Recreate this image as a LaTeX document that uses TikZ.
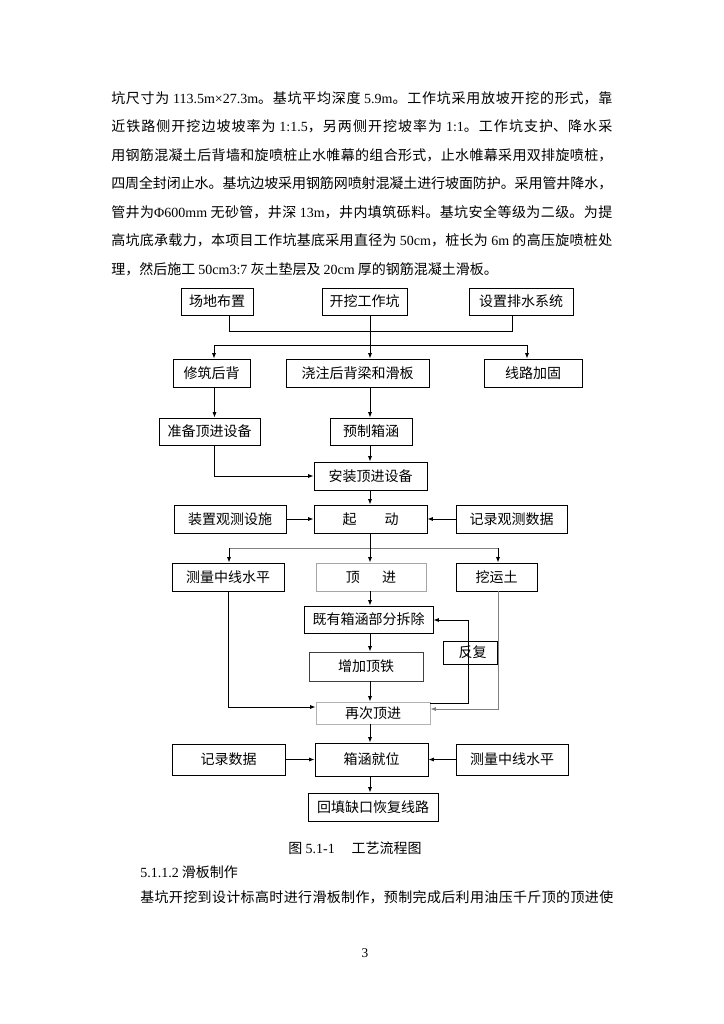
\documentclass[tikz,border=0pt]{standalone}
\usepackage{fontspec}
\setmainfont{Noto Sans CJK SC}
\newfontfamily\latf{Liberation Serif}
\usetikzlibrary{arrows.meta,calc}
\XeTeXlinebreaklocale "zh"
\XeTeXlinebreakskip=0pt plus 2pt minus 0.5pt
\newdimen\pxu \pxu=0.75pt
\newcommand\lt[1]{{\latf #1}}
\newcommand\jline[2]{\parbox{#1\pxu}{\XeTeXlinebreaklocale "zh"\XeTeXlinebreakskip=0pt plus 2pt minus 0.5pt\relax\noindent\parfillskip=0pt\relax #2\par}}
\begin{document}
\begin{tikzpicture}[x=0.75pt,y=-0.75pt,
  font=\fontsize{10.5pt}{12pt}\selectfont,
  box/.style={draw, line width=0.7pt, inner sep=0pt, anchor=center},
  bx/.style 2 args={minimum width=#1*0.75pt, minimum height=#2*0.75pt},
  arr/.style={-{Latex[length=4pt,width=3pt]}, line width=0.6pt},
  ln/.style={line width=0.6pt},
  txt/.style={anchor=west, inner sep=0pt}]
\useasboundingbox[fill=white] (0,0) rectangle (724,1024);

% paragraph
\node[txt] (p1) at (111,98) {\jline{501}{坑尺寸为 \lt{113.5m×27.3m}。基坑平均深度 \lt{5.9m}。工作坑采用放坡开挖的形式，靠}};
\node[txt] (p2) at (111,126.5) {\jline{501}{近铁路侧开挖边坡坡率为 \lt{1:1.5}，另两侧开挖坡率为 \lt{1:1}。工作坑支护、降水采}};
\node[txt] (p3) at (111,155) {\jline{501}{用钢筋混凝土后背墙和旋喷桩止水帷幕的组合形式，止水帷幕采用双排旋喷桩，}};
\node[txt] (p4) at (111,183.5) {\jline{501}{四周全封闭止水。基坑边坡采用钢筋网喷射混凝土进行坡面防护。采用管井降水，}};
\node[txt] (p5) at (111,212) {\jline{501}{管井为\lt{Φ600mm} 无砂管，井深 \lt{13m}，井内填筑砾料。基坑安全等级为二级。为提}};
\node[txt] (p6) at (111,240.5) {\jline{501}{高坑底承载力，本项目工作坑基底采用直径为 \lt{50cm}，桩长为 \lt{6m} 的高压旋喷桩处}};
\node[txt] (p7) at (111,269) {理，然后施工 \lt{50cm3:7} 灰土垫层及 \lt{20cm} 厚的钢筋混凝土滑板。};

% boxes
\node[box,bx={72}{27}] (a1) at (217,301.5) {场地布置};
\node[box,bx={85}{27}] (a2) at (364.5,301.5) {开挖工作坑};
\node[box,bx={104}{27}] (a3) at (521,301.5) {设置排水系统};

\node[box,bx={77}{28}] (b1) at (211.5,373) {修筑后背};
\node[box,bx={143}{28}] (b2) at (357.5,373) {浇注后背梁和滑板};
\node[box,bx={98}{28}] (b3) at (533,373) {线路加固};

\node[box,bx={101}{27}] (c1) at (209.5,431.5) {准备顶进设备};
\node[box,bx={82}{27}] (c2) at (371,431.5) {预制箱涵};

\node[box,bx={113}{28}] (d) at (370.5,476) {安装顶进设备};

\node[box,bx={112}{28}] (e1) at (230,519) {装置观测设施};
\node[box,bx={113}{28}] (e2) at (370.5,519) {起\hspace{2em}动};
\node[box,bx={111}{28}] (e3) at (511.5,519) {记录观测数据};

\node[box,bx={112}{28}] (f1) at (228,577) {测量中线水平};
\node[box,bx={110}{28},draw=gray!70] (f2) at (371,577) {顶\hspace{1.6em}进};
\node[box,bx={81}{28}] (f3) at (496.5,577) {挖运土};

\node[box,bx={129}{27}] (g) at (368.5,619.5) {既有箱涵部分拆除};
\node[box,bx={114}{29},draw=black!75] (h) at (366,666.5) {增加顶铁};
\node[box,bx={114}{22},draw=gray!60] (i) at (373,713) {再次顶进};
\node[box,bx={54}{23}] (r) at (470,652.5) {\hspace{4pt}反复};

\node[box,bx={113}{31}] (j1) at (228.5,759.5) {记录数据};
\node[box,bx={113}{33}] (j2) at (371.5,759.5) {箱涵就位};
\node[box,bx={112}{31}] (j3) at (512,759.5) {测量中线水平};
\node[box,bx={130}{28}] (k) at (373,807) {回填缺口恢复线路};

% coordinates
\coordinate (XM) at (370,0);
\coordinate (XA) at (214.5,0);
\coordinate (t1) at (229,331); \coordinate (t2) at (512,331);
\coordinate (h1) at (214,345); \coordinate (h2) at (370,345); \coordinate (h3) at (527,345);
\coordinate (k1) at (214.5,476);
\coordinate (s1) at (229,548); \coordinate (s2) at (370,548); \coordinate (s3) at (498,548);
\coordinate (m1) at (228,707);
\coordinate (q1) at (468,703); \coordinate (q2) at (468,620);
\coordinate (w1) at (498,709);

% connectors
\draw[ln] (a1.south -| t1) -- (t1) -- (t2) -- (a3.south -| t2);
\draw[ln] (a2.south -| XM) -- (h2);
\draw[ln] (h1) -- (h3);
\draw[arr] (h1) -- (b1.north -| h1);
\draw[arr] (h2) -- (b2.north -| h2);
\draw[arr] (h3) -- (b3.north -| h3);
\draw[arr] (b1.south -| XA) -- (c1.north -| XA);
\draw[arr] (b2.south -| XM) -- (c2.north -| XM);
\draw[arr] (c1.south -| k1) -- (k1) -- (d.west |- k1);
\draw[arr] (c2.south -| XM) -- (d.north -| XM);
\draw[arr] (d.south -| XM) -- (e2.north -| XM);
\draw[arr] (e1.east) -- (e2.west);
\draw[arr] (e3.west) -- (e2.east);
\draw[ln] (e2.south -| XM) -- (s2);
\draw[ln,gray] (s1) -- (s3);
\draw[arr] (s1) -- (f1.north -| s1);
\draw[arr] (s2) -- (f2.north -| s2);
\draw[arr] (s3) -- (f3.north -| s3);
\draw[arr] (f2.south -| XM) -- (g.north -| XM);
\draw[arr] (g.south -| XM) -- (h.north -| XM);
\draw[arr] (h.south -| XM) -- (i.north -| XM);
\draw[arr] (f1.south -| m1) -- (m1) -- (i.west |- m1);
\draw[arr,draw=gray] (f3.south -| w1) -- (w1) -- (i.east |- w1);
\draw[arr] (i.east |- q1) -- (q1) -- (q2) -- (g.east |- q2);
\draw[arr] (i.south -| XM) -- (j2.north -| XM);
\draw[arr] (j1.east) -- (j2.west);
\draw[arr] (j3.west) -- (j2.east);
\draw[arr] (j2.south -| XM) -- (k.north -| XM);

% caption and following text
\node[inner sep=0pt] (cap) at (355,848) {图 \lt{5.1-1}\hspace{1.2em}工艺流程图};
\node[txt] (sec) at (140,872) {\lt{5.1.1.2} 滑板制作};
\node[txt] (p8) at (140,897) {\jline{473}{基坑开挖到设计标高时进行滑板制作，预制完成后利用油压千斤顶的顶进使}};
\node[inner sep=0pt,font=\latf\fontsize{10pt}{12pt}\selectfont] (pg) at (365,953) {3};
\end{tikzpicture}
\end{document}
